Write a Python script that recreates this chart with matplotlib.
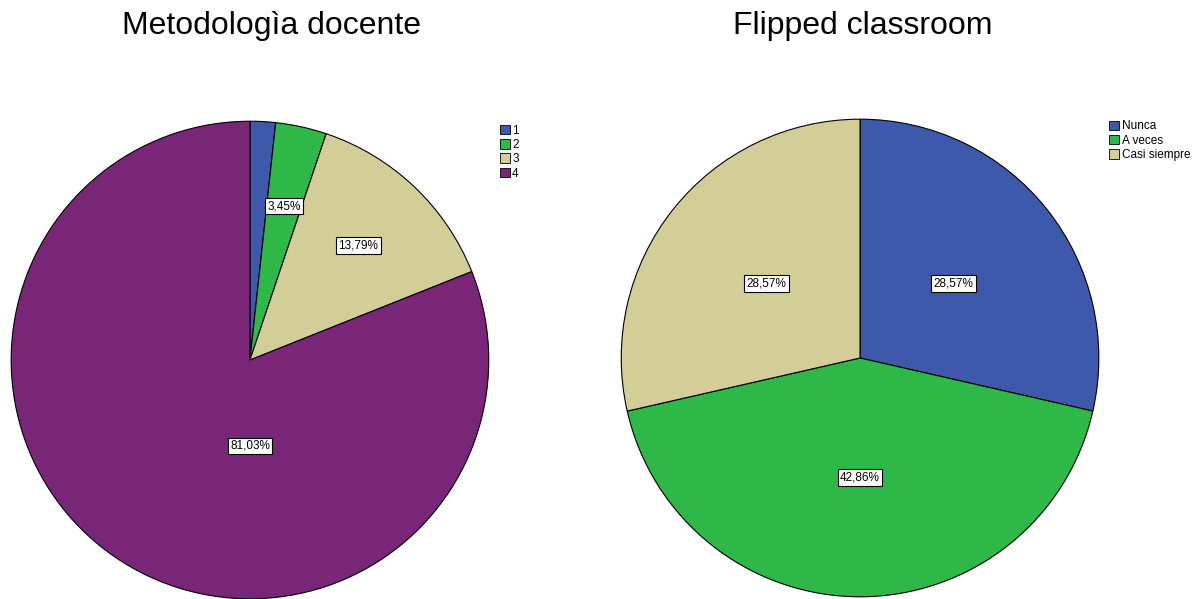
import matplotlib
matplotlib.use("Agg")
import matplotlib.pyplot as plt
from matplotlib.patches import Patch

plt.rcParams["font.family"] = ["Liberation Sans", "DejaVu Sans"]

# left pie: Metodologìa docente
left_title = "Metodologìa docente"
left_labels = ["1", "2", "3", "4"]
left_values = [1.72, 3.45, 13.79, 81.03]
left_colors = ["#3e58ac", "#2eb848", "#d3ce97", "#7a2678"]

# right pie: Flipped classroom
right_title = "Flipped classroom"
right_labels = ["Nunca", "A veces", "Casi siempre"]
right_values = [28.57, 42.86, 28.57]
right_colors = ["#3e58ac", "#2eb848", "#d3ce97"]

BOX = dict(boxstyle="square,pad=0.2", fc="white", ec="black", lw=0.8)


def fmt(v):
    return f"{v:.2f}%".replace(".", ",")


def draw_pie(ax, values, colors, pctdist, hide_below=2.0):
    wedges, _, autotexts = ax.pie(
        values, colors=colors, startangle=90, counterclock=False,
        autopct="%1.1f", pctdistance=pctdist,
        wedgeprops=dict(edgecolor="black", linewidth=0.8),
        textprops=dict(fontsize=8.5),
    )
    for t, v in zip(autotexts, values):
        t.set_text(fmt(v))
        if v < hide_below:
            t.set_visible(False)
        else:
            t.set_bbox(BOX)
    ax.set_xlim(-1.005, 1.005)
    ax.set_ylim(-1.005, 1.005)
    ax.set_aspect("equal")
    return wedges, autotexts


fig = plt.figure(figsize=(12, 5.99), dpi=100)

ax_l = fig.add_axes([0.0083, -0.0017, 0.4, 0.8013])
_, texts_l = draw_pie(ax_l, left_values, left_colors, 0.66)
# the big slice's label sits just below the centre
texts_l[3].set_position((0.0, -0.36))

ax_r = fig.add_axes([0.5167, 0.0017, 0.4, 0.8013])
draw_pie(ax_r, right_values, right_colors, 0.5)

fig.text(0.226, 0.944, left_title, ha="center", va="baseline", fontsize=23)
fig.text(0.719, 0.944, right_title, ha="center", va="baseline", fontsize=23)

for labels, colors, anchor in [
    (left_labels, left_colors, (0.4125, 0.8)),
    (right_labels, right_colors, (0.9205, 0.807)),
]:
    handles = [Patch(fc=c, ec="black", lw=0.6) for c in colors]
    fig.legend(handles, labels, loc="upper left", bbox_to_anchor=anchor,
               frameon=False, fontsize=8.5, handlelength=0.85, handleheight=0.85,
               handletextpad=0.2, labelspacing=0.2, borderaxespad=0)

fig.savefig("out.png", dpi=100)
